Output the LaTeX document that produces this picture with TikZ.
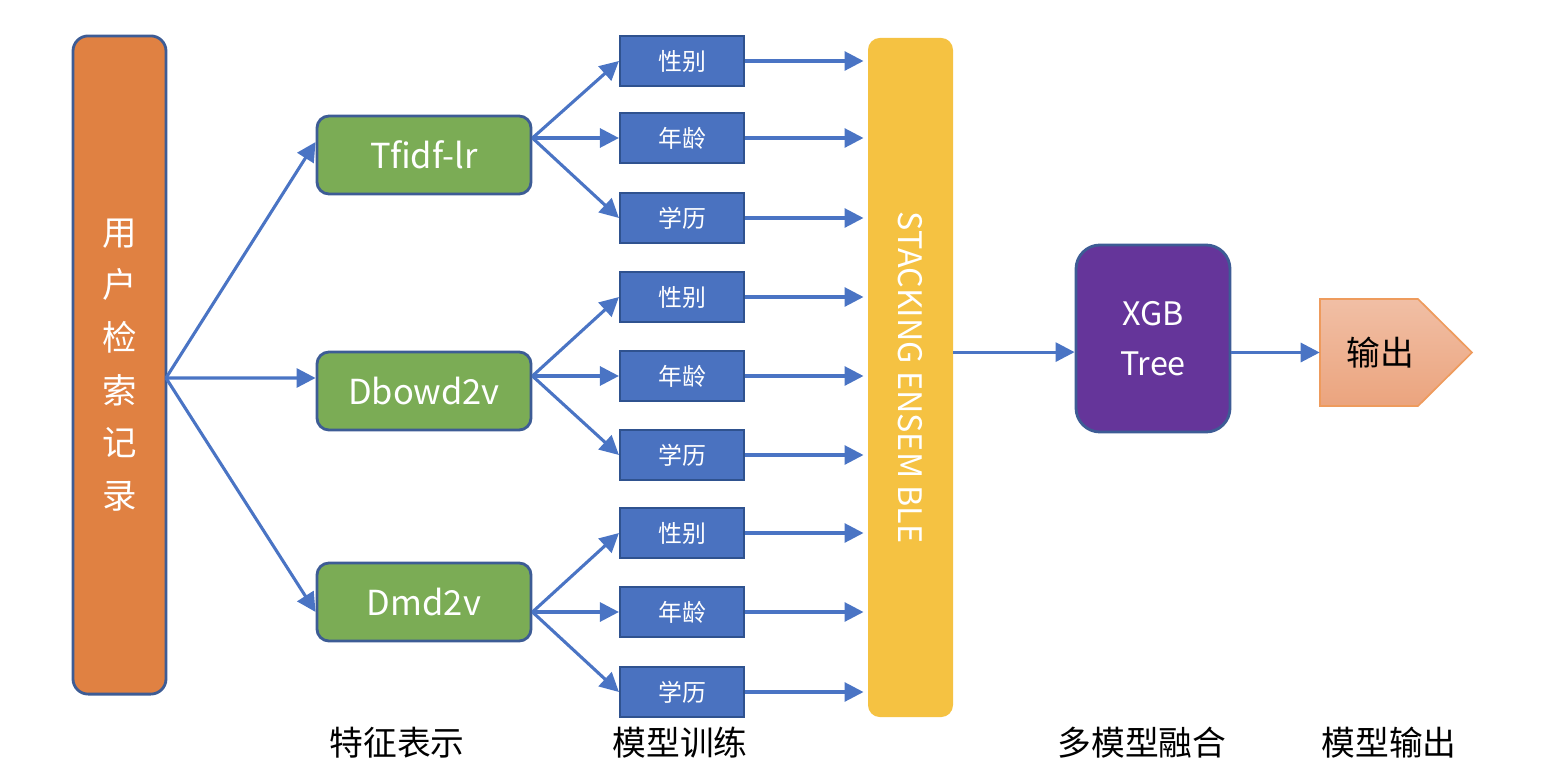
\documentclass[tikz,border=0pt]{standalone}
\usepackage{fontspec}
\setmainfont{Noto Sans CJK SC}
\usetikzlibrary{arrows.meta}
\definecolor{cOrange}{HTML}{E08142}
\definecolor{cBorder}{HTML}{3D5C95}
\definecolor{cGreen}{HTML}{7BAC55}
\definecolor{cBlue}{HTML}{4A72C0}
\definecolor{cBlueB}{HTML}{2F528F}
\definecolor{cArrow}{HTML}{4A74C4}
\definecolor{cYellow}{HTML}{F5C242}
\definecolor{cPurple}{HTML}{65359A}
\definecolor{cOutT}{HTML}{F1BFA5}
\definecolor{cOutB}{HTML}{EBA47E}
\definecolor{cOutD}{HTML}{EE9B5D}
\begin{document}
\begin{tikzpicture}[x=0.025cm,y=-0.025cm,
  arr/.style={draw=cArrow, line width=2.2pt, -{Triangle[length=13.5pt,width=13.5pt]}},
  srcbox/.style={draw=cBorder, line width=2pt, fill=cOrange, rounded corners=0.38cm,
    minimum width=2.325cm, minimum height=16.45cm, inner sep=0pt, text=white,
    align=center, font=\fontsize{24.5}{37.5}\selectfont},
  featbox/.style={draw=cBorder, line width=2pt, fill=cGreen, rounded corners=0.3cm,
    minimum width=5.35cm, minimum height=1.95cm, inner sep=0pt, text=white,
    font=\fontsize{24.5}{28}\selectfont},
  taskbox/.style={draw=cBlueB, line width=1.5pt, fill=cBlue,
    minimum width=3.1cm, minimum height=1.25cm, inner sep=0pt, text=white,
    font=\fontsize{17}{20}\selectfont},
  stackbox/.style={fill=cYellow, rounded corners=0.3cm,
    minimum width=2.125cm, minimum height=16.975cm, inner sep=0pt, text=white,
    font=\fontsize{23}{26}\selectfont},
  xgbbox/.style={draw=cBorder, line width=2pt, fill=cPurple, rounded corners=0.6cm,
    minimum width=3.85cm, minimum height=4.675cm, inner sep=0pt, text=white,
    align=center, font=\fontsize{23}{35.5}\selectfont},
  caption/.style={font=\fontsize{24}{28}\selectfont, text=black, inner sep=0pt}
]
\useasboundingbox (0,0) rectangle (1544,776);

% source
\node[srcbox] (o) at (119.5,365) {用\\户\\检\\索\\记\\录};
\coordinate (src) at (166,378);

% feature boxes
\node[featbox] (g1) at (424,155) {Tfidf-lr};
\node[featbox] (g2) at (424,391) {Dbowd2v};
\node[featbox] (g3) at (424,602) {Dmd2v};

% task boxes
\node[taskbox] (b11) at (682,61) {性别};
\node[taskbox] (b12) at (682,138) {年龄};
\node[taskbox] (b13) at (682,218) {学历};
\node[taskbox] (b21) at (682,297) {性别};
\node[taskbox] (b22) at (682,376) {年龄};
\node[taskbox] (b23) at (682,455) {学历};
\node[taskbox] (b31) at (682,533) {性别};
\node[taskbox] (b32) at (682,612) {年龄};
\node[taskbox] (b33) at (682,692) {学历};

% stacking
\node[stackbox] (st) at (910.5,377.5) {\rotatebox{-90}{STACKING ENSEM BLE}};

% xgb
\node[xgbbox] (x) at (1153,338.5) {XGB\\Tree};

% output
\path[draw=cOutD, line width=1.2pt, top color=cOutT, bottom color=cOutB]
  (1320,299) -- (1418,299) -- (1472,352.5) -- (1418,406) -- (1320,406) -- cycle;
\node[inner sep=0pt, minimum width=3cm, minimum height=2.675cm,
  font=\fontsize{24}{26}\selectfont, text=black] (out) at (1380,352.5) {输出};

% arrows: source -> features
\draw[arr] (src) -- ([yshift=0.325cm]g1.west);
\draw[arr] (src) -- ([yshift=0.325cm]g2.west);
\draw[arr] (src) -- ([yshift=-0.25cm]g3.west);

% features -> tasks
\foreach \g/\a/\b/\c in {g1/b11/b12/b13, g2/b21/b22/b23, g3/b31/b32/b33}{
  \draw[arr] (\g.east |- \b.west) -- (\a.west);
  \draw[arr] (\g.east |- \b.west) -- (\b.west);
  \draw[arr] (\g.east |- \b.west) -- (\c.west);
}

% tasks -> stacking
\foreach \t in {b11,b12,b13,b21,b22,b23,b31,b32,b33}{
  \draw[arr, shorten >=3pt] (\t.east) -- (\t.east -| st.west);
}

% stacking -> xgb -> output
\coordinate (xin) at ([yshift=-0.34cm]x.west);
\draw[arr] (st.east |- xin) -- (xin);
\draw[arr] (x.east |- out.west) -- (out.west);

% captions
\node[caption] (c1) at (397,743) {特征表示};
\node[caption] (c2) at (680,743) {模型训练};
\node[caption] (c3) at (1142,743) {多模型融合};
\node[caption] (c4) at (1389,743) {模型输出};
\end{tikzpicture}
\end{document}
